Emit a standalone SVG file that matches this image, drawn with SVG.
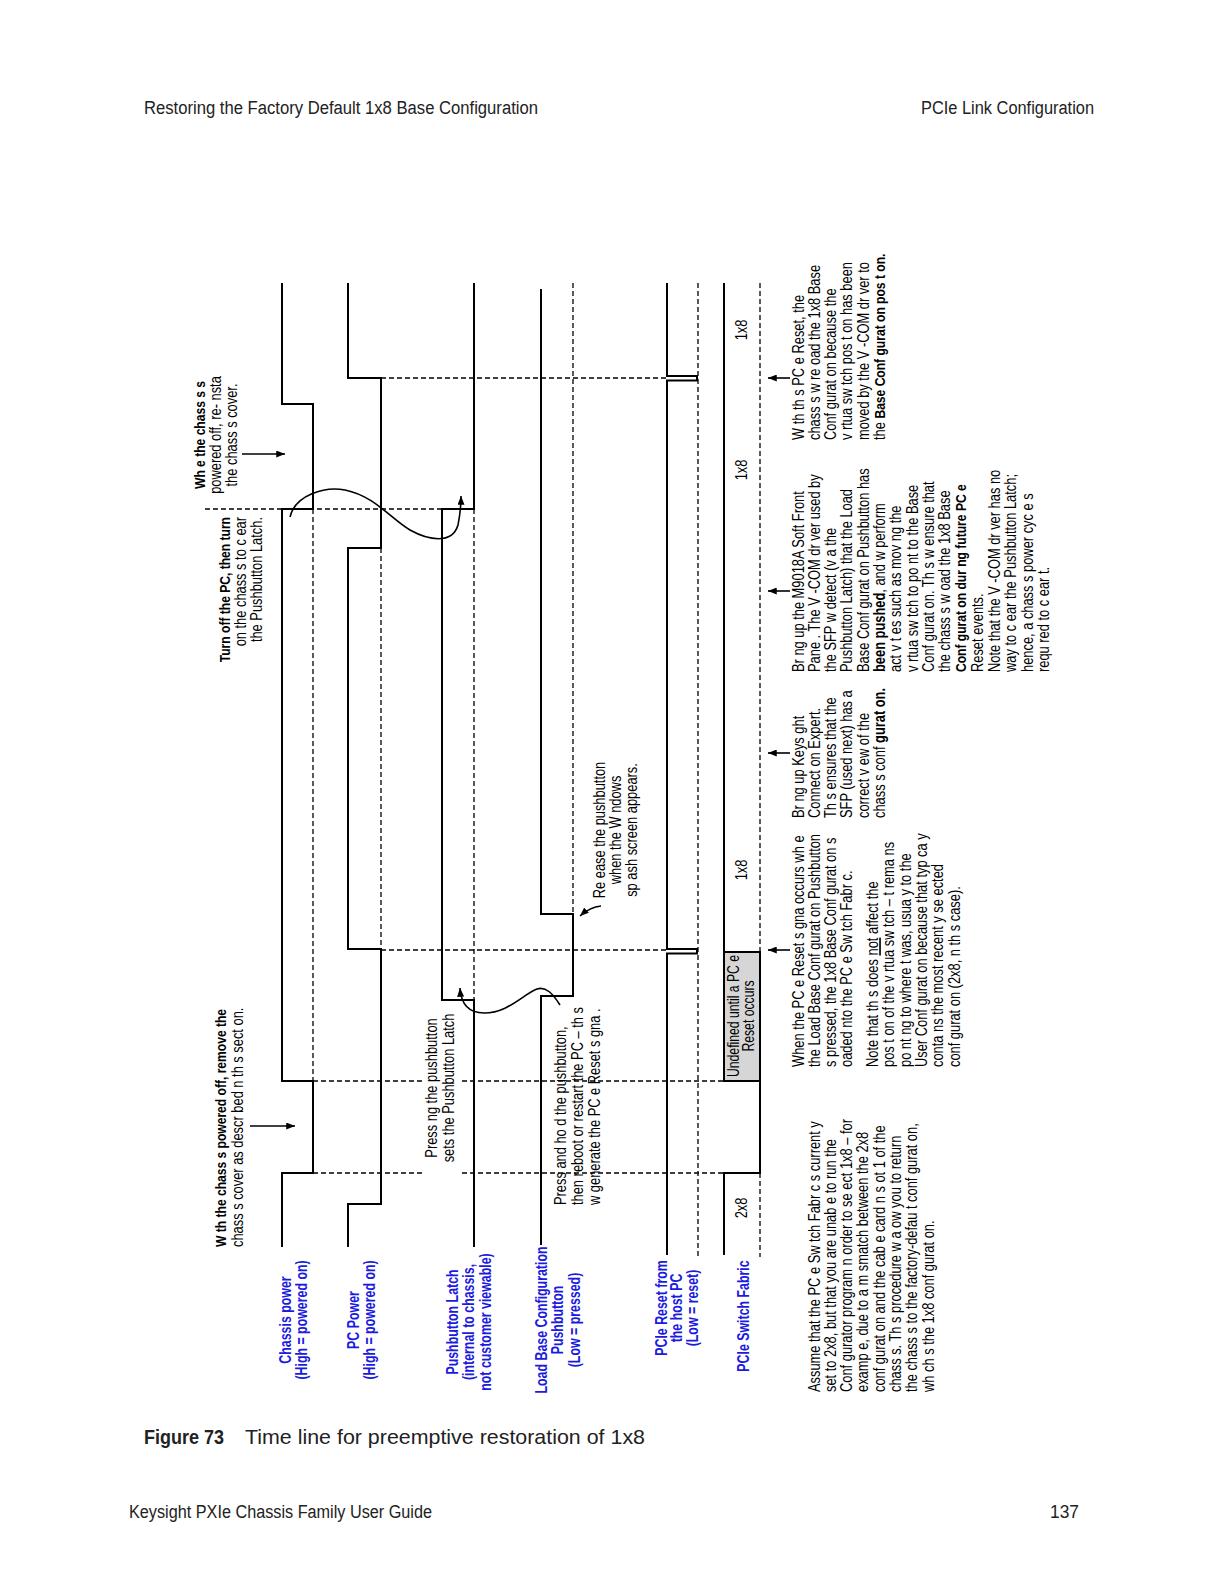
<svg xmlns="http://www.w3.org/2000/svg" width="1224" height="1584" viewBox="0 0 1224 1584">
<style>
.sig{stroke:#000;stroke-width:2;fill:none;stroke-linejoin:miter}
.dash{stroke:#000;stroke-width:1.3;stroke-dasharray:5 3;fill:none}
.arr{stroke:#000;stroke-width:1.6;fill:none;marker-end:url(#ah)}
.t{font-family:"Liberation Sans",Arial,sans-serif;font-size:16.5px;fill:#000}
.b{font-weight:bold}
.lbl{font-family:"Liberation Sans",Arial,sans-serif;font-size:16.5px;font-weight:bold;fill:#1a1ae0;text-anchor:middle}
.pg{font-family:"Liberation Sans",Arial,sans-serif;fill:#222}
</style>
<defs>
<marker id="ah" viewBox="0 0 10 8" refX="10" refY="4" markerWidth="9" markerHeight="7" markerUnits="userSpaceOnUse" orient="auto"><path d="M0,0 L10,4 L0,8 z" fill="#000"/></marker>
</defs>
<rect width="1224" height="1584" fill="#fff"/>

<g id="page-text">
<text class="pg" x="144" y="114" font-size="18" textLength="394" lengthAdjust="spacingAndGlyphs">Restoring the Factory Default 1x8 Base Configuration</text>
<text class="pg" x="921" y="114" font-size="18" textLength="173" lengthAdjust="spacingAndGlyphs">PCIe Link Configuration</text>
<text class="pg" x="144" y="1444" font-size="21" font-weight="bold" fill="#000" textLength="80" lengthAdjust="spacingAndGlyphs">Figure 73</text>
<text class="pg" x="245" y="1444" font-size="21" textLength="400" lengthAdjust="spacingAndGlyphs">Time line for preemptive restoration of 1x8</text>
<text class="pg" x="129" y="1518" font-size="18" textLength="303" lengthAdjust="spacingAndGlyphs">Keysight PXIe Chassis Family User Guide</text>
<text class="pg" x="1050" y="1518" font-size="18" textLength="29" lengthAdjust="spacingAndGlyphs">137</text>
</g>

<g id="labels">
<text class="lbl" transform="translate(291 1320) rotate(-90) scale(0.75 1)"><tspan x="0">Chassis power</tspan><tspan x="0" dy="16.5">(High = powered on)</tspan></text>
<text class="lbl" transform="translate(359 1320) rotate(-90) scale(0.75 1)"><tspan x="0">PC Power</tspan><tspan x="0" dy="16">(High = powered on)</tspan></text>
<text class="lbl" transform="translate(458 1322) rotate(-90) scale(0.75 1)"><tspan x="0">Pushbutton Latch</tspan><tspan x="0" dy="16.5">(internal to chassis,</tspan><tspan x="0" dy="16.5">not customer viewable)</tspan></text>
<text class="lbl" transform="translate(547 1320) rotate(-90) scale(0.75 1)"><tspan x="0">Load Base Configuration</tspan><tspan x="0" dy="16.5">Pushbutton</tspan><tspan x="0" dy="16.5">(Low = pressed)</tspan></text>
<text class="lbl" transform="translate(667 1308) rotate(-90) scale(0.75 1)"><tspan x="0">PCIe Reset from</tspan><tspan x="0" dy="15.5">the host PC</tspan><tspan x="0" dy="15.5">(Low = reset)</tspan></text>
<text class="lbl" transform="translate(749 1316) rotate(-90) scale(0.75 1)">PCIe Switch Fabric</text>
</g>

<g id="grid-dashes">
<path class="dash" d="M313 509V1081 M381 548V949 M474 509V1000 M573 283V914 M698 283V1257 M760 283V952 M760 1173V1257"/>
<path class="dash" d="M381 378H667 M205 509H442 M381 950H667 M313 1081H423 M462 1081H724 M313 1173H423 M462 1173H724"/>
</g>

<g id="sig-chassis"><polyline class="sig" points="282,283 282,404 313,404 313,509 282,509 282,1081 313,1081 313,1173 282,1173 282,1247"/></g>
<g id="sig-pc"><polyline class="sig" points="348,283 348,378 381,378 381,548 348,548 348,949 381,949 381,1204 348,1204 348,1247"/></g>
<g id="sig-latch"><polyline class="sig" points="474,283 474,509 442,509 442,1000 474,1000 474,1247"/></g>
<g id="sig-load"><polyline class="sig" points="541,289 541,914 573,914 573,996 541,996 541,1245"/></g>
<g id="sig-reset"><polyline class="sig" points="667,283 667,376 697,376 697,380.5 667,380.5 667,949 697,949 697,953.5 667,953.5 667,1255"/></g>
<g id="sig-fabric">
<rect x="724" y="952" width="36" height="129" fill="#d6d6d6" stroke="#000" stroke-width="2"/>
<path class="sig" d="M724 283V952 M760 1081V1173H724V1255"/>
<text class="t" transform="translate(747 1208) rotate(-90) scale(0.78 1)" text-anchor="middle">2x8</text>
<text class="t" font-size="14" transform="translate(739 1016) rotate(-90) scale(0.74 1)" text-anchor="middle"><tspan x="0">Undefined until a PC e</tspan><tspan x="0" dy="15">Reset occurs</tspan></text>
<text class="t" transform="translate(747 870) rotate(-90) scale(0.78 1)" text-anchor="middle">1x8</text>
<text class="t" transform="translate(747 470) rotate(-90) scale(0.78 1)" text-anchor="middle">1x8</text>
<text class="t" transform="translate(747 330) rotate(-90) scale(0.78 1)" text-anchor="middle">1x8</text>
</g>

<g id="note-cover-off">
<text class="t" transform="translate(226 1247) rotate(-90) scale(0.78 1)"><tspan x="0" class="b" font-size="15.5">W th the chass s powered off, remove the</tspan><tspan x="0" dy="17">chass s cover as descr bed n th s sect on.</tspan></text>
</g>
<g id="note-turn-off">
<text class="t" text-anchor="end" transform="translate(230 517) rotate(-90) scale(0.78 1)"><tspan x="0" class="b" font-size="15.5">Turn off the PC, then turn</tspan><tspan x="0" dy="16">on the chass s to c ear</tspan><tspan x="0" dy="16">the Pushbutton Latch.</tspan></text>
</g>
<g id="note-reinstall">
<text class="t" text-anchor="middle" transform="translate(205 435) rotate(-90) scale(0.78 1)"><tspan x="0" class="b" font-size="15.5">Wh e the chass s s</tspan><tspan x="0" dy="16">powered off, re- nsta</tspan><tspan x="0" dy="16">the chass s cover.</tspan></text>
</g>
<g id="note-press-latch">
<text class="t" text-anchor="middle" transform="translate(437 1088) rotate(-90) scale(0.78 1)"><tspan x="0">Press ng the pushbutton</tspan><tspan x="0" dy="17">sets the Pushbutton Latch</tspan></text>
</g>
<g id="note-press-hold">
<text class="t" transform="translate(566 1205) rotate(-90) scale(0.78 1)"><tspan x="0">Press and ho d the pushbutton,</tspan><tspan x="0" dy="17">then reboot or restart the PC – th s</tspan><tspan x="0" dy="17">w generate the PC e Reset s gna .</tspan></text>
</g>
<g id="note-release">
<text class="t" text-anchor="middle" transform="translate(605 830) rotate(-90) scale(0.78 1)"><tspan x="0">Re ease the pushbutton</tspan><tspan x="0" dy="16">when the W ndows</tspan><tspan x="0" dy="16">sp ash screen appears.</tspan></text>
</g>
<g id="note-reset-load">
<text class="t" transform="translate(803.5 1067) rotate(-90) scale(0.78 1)"><tspan x="0">When the PC e Reset s gna occurs wh e</tspan><tspan x="0" dy="16.3">the Load Base Conf gurat on Pushbutton</tspan><tspan x="0" dy="16.3">s pressed, the 1x8 Base Conf gurat on s</tspan><tspan x="0" dy="16.3">oaded nto the PC e Sw tch Fabr c.</tspan><tspan x="0" dy="25.7">Note that th s does <tspan text-decoration="underline">not</tspan> affect the</tspan><tspan x="0" dy="16.3">pos t on of the v rtua sw tch – t rema ns</tspan><tspan x="0" dy="16.3">po nt ng to where t was, usua y to the</tspan><tspan x="0" dy="16.3">User Conf gurat on because that typ ca y</tspan><tspan x="0" dy="16.3">conta ns the most recent y se ected</tspan><tspan x="0" dy="16.3">conf gurat on (2x8, n th s case).</tspan></text>
</g>
<g id="note-connect-expert">
<text class="t" transform="translate(803.5 818) rotate(-90) scale(0.78 1)"><tspan x="0">Br ng up Keys ght</tspan><tspan x="0" dy="16.3">Connect on Expert.</tspan><tspan x="0" dy="16.3">Th s ensures that the</tspan><tspan x="0" dy="16.3">SFP (used next) has a</tspan><tspan x="0" dy="16.3">correct v ew of the</tspan><tspan x="0" dy="16.3">chass s conf <tspan class="b">gurat on.</tspan></tspan></text>
</g>
<g id="note-sfp">
<text class="t" transform="translate(803.5 672) rotate(-90) scale(0.78 1)"><tspan x="0">Br ng up the M9018A Soft Front</tspan><tspan x="0" dy="16.3">Pane . The V -COM dr ver used by</tspan><tspan x="0" dy="16.3">the SFP w detect (v a the</tspan><tspan x="0" dy="16.3">Pushbutton Latch) that the Load</tspan><tspan x="0" dy="16.3">Base Conf gurat on Pushbutton has</tspan><tspan x="0" dy="16.3"><tspan class="b">been pushed</tspan>, and w perform</tspan><tspan x="0" dy="16.3">act v t es such as mov ng the</tspan><tspan x="0" dy="16.3">v rtua sw tch to po nt to the Base</tspan><tspan x="0" dy="16.3">Conf gurat on. Th s w ensure that</tspan><tspan x="0" dy="16.3">the chass s w oad the 1x8 Base</tspan><tspan x="0" dy="16.3" class="b" font-size="15.5">Conf gurat on dur ng future PC e</tspan><tspan x="0" dy="16.3">Reset events.</tspan></text>
</g>
<g id="note-vcom">
<text class="t" transform="translate(1000 672) rotate(-90) scale(0.78 1)"><tspan x="0">Note that the V -COM dr ver has no</tspan><tspan x="0" dy="16.3">way to c ear the Pushbutton Latch;</tspan><tspan x="0" dy="16.3">hence, a chass s power cyc e s</tspan><tspan x="0" dy="16.3">requ red to c ear t.</tspan></text>
</g>
<g id="note-reload">
<text class="t" transform="translate(803.5 440) rotate(-90) scale(0.78 1)"><tspan x="0">W th th s PC e Reset, the</tspan><tspan x="0" dy="16.3">chass s w re oad the 1x8 Base</tspan><tspan x="0" dy="16.3">Conf gurat on because the</tspan><tspan x="0" dy="16.3">v rtua sw tch pos t on has been</tspan><tspan x="0" dy="16.3">moved by the V -COM dr ver to</tspan><tspan x="0" dy="16.3">the <tspan class="b" font-size="15.5">Base Conf gurat on pos t on.</tspan></tspan></text>
</g>
<g id="note-assume">
<text class="t" transform="translate(819.5 1392) rotate(-90) scale(0.78 1)"><tspan x="0">Assume that the PC e Sw tch Fabr c s current y</tspan><tspan x="0" dy="16.3">set to 2x8, but that you are unab e to run the</tspan><tspan x="0" dy="16.3">Conf gurator program n order to se ect 1x8 – for</tspan><tspan x="0" dy="16.3">examp e, due to a m smatch between the 2x8</tspan><tspan x="0" dy="16.3">conf gurat on and the cab e card n s ot 1 of the</tspan><tspan x="0" dy="16.3">chass s. Th s procedure w a ow you to return</tspan><tspan x="0" dy="16.3">the chass s to the factory-defau t conf gurat on,</tspan><tspan x="0" dy="16.3">wh ch s the 1x8 conf gurat on.</tspan></text>
</g>

<g id="connectors">
<path class="arr" d="M250 1126H295"/>
<path class="arr" d="M242 454H285"/>
<path class="arr" d="M290 517C295 495 325 486 345 490C375 496 392 520 410 530C428 540 452 545 458 525C460 515 461 505 461 496"/>
<path class="arr" d="M560 1005C553 994 546 986 537 989C522 995 508 1013 484 1013C468 1013 461 1003 460 988"/>
<path class="arr" d="M601 906Q590 907 580 916"/>
<path class="arr" d="M790 950H768"/>
<path class="arr" d="M790 753H768"/>
<path class="arr" d="M790 591H768"/>
<path class="arr" d="M790 378H768"/>
</g>
</svg>
